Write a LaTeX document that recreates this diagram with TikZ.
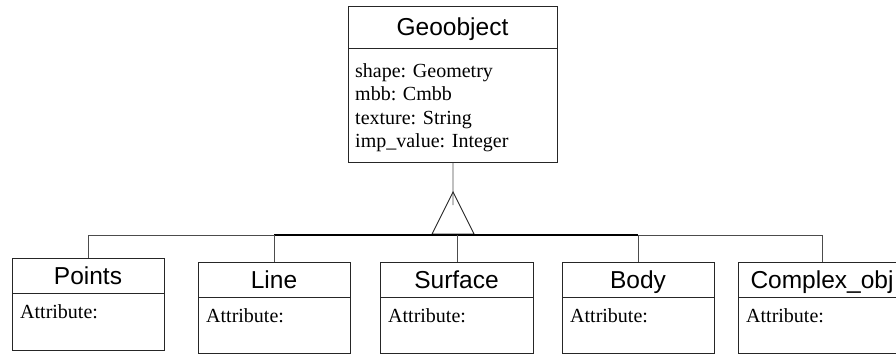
\documentclass[tikz,border=0pt]{standalone}
\usepackage{fontspec}
\setmainfont{Liberation Serif}
\setsansfont{Liberation Sans}
\begin{document}
\begin{tikzpicture}[x=1pt,y=-1pt,
  box/.style={draw=black!85, line width=0.9pt, inner sep=0pt, anchor=north west},
  hline/.style={draw=black!85, line width=0.9pt},
  ttl/.style={font=\sffamily\fontsize{24.5}{28}\selectfont, inner sep=0pt, anchor=base},
  attr/.style={font=\fontsize{20}{24}\selectfont, inner sep=0pt, anchor=base west},
  conn/.style={draw=black!70, line width=0.8pt},
  busmid/.style={draw=black, line width=1.2pt}]
\useasboundingbox (0,0) rectangle (896,354);
\clip (0,0) rectangle (896,354);

% Geoobject
\node[box, minimum width=209pt, minimum height=156pt] (geo) at (348,6) {};
\draw[hline] ([yshift=-42pt]geo.north west) -- ([yshift=-42pt]geo.north east);
\node[ttl] (geot) at (452.5,35.5) {Geoobject};
\node[attr] (ga1) at (355,77) {shape: Geometry};
\node[attr] (ga2) at (355,100.5) {mbb: Cmbb};
\node[attr] (ga3) at (355,124) {texture: String};
\node[attr] (ga4) at (355,147.5) {imp\_value: Integer};

% subclasses
\node[box, minimum width=152pt, minimum height=92pt] (pts) at (12,258) {};
\draw[hline] ([yshift=-35pt]pts.north west) -- ([yshift=-35pt]pts.north east);
\node[ttl] (ptst) at (88,284) {Points};
\node[attr] (ptsa) at (20,318) {Attribute:};

\node[box, minimum width=152pt, minimum height=91pt] (ln) at (198,262) {};
\draw[hline] ([yshift=-35pt]ln.north west) -- ([yshift=-35pt]ln.north east);
\node[ttl] (lnt) at (274,288) {Line};
\node[attr] (lna) at (206,322) {Attribute:};

\node[box, minimum width=153pt, minimum height=91pt] (sur) at (380,262) {};
\draw[hline] ([yshift=-35pt]sur.north west) -- ([yshift=-35pt]sur.north east);
\node[ttl] (surt) at (456.5,288) {Surface};
\node[attr] (sura) at (388,322) {Attribute:};

\node[box, minimum width=152pt, minimum height=91pt] (bod) at (562,262) {};
\draw[hline] ([yshift=-35pt]bod.north west) -- ([yshift=-35pt]bod.north east);
\node[ttl] (bodt) at (638,288) {Body};
\node[attr] (boda) at (570,322) {Attribute:};

\node[box, minimum width=168pt, minimum height=91pt] (cpx) at (738,262) {};
\draw[hline] ([yshift=-35pt]cpx.north west) -- ([yshift=-35pt]cpx.north east);
\node[ttl] (cpxt) at (822,288) {Complex\_obj};
\node[attr] (cpxa) at (746,322) {Attribute:};

% generalization
\coordinate (busy) at (0,235);
\coordinate (stem) at (453,205);
\coordinate (apex) at (453,192);
\coordinate (bl) at (432,234);
\coordinate (br) at (474,234);
\draw[conn] (geo.south) -- (stem);
\draw[hline] (apex) -- (bl) -- (br) -- cycle;
\draw[conn] (pts.north) -- (pts.north |- busy) -- (cpx.north |- busy) -- (cpx.north);
\draw[busmid] (ln.north |- busy) -- (bod.north |- busy);
\draw[conn] (ln.north) -- (ln.north |- busy);
\draw[conn] (sur.north) -- (sur.north |- busy);
\draw[conn] (bod.north) -- (bod.north |- busy);
\end{tikzpicture}
\end{document}
